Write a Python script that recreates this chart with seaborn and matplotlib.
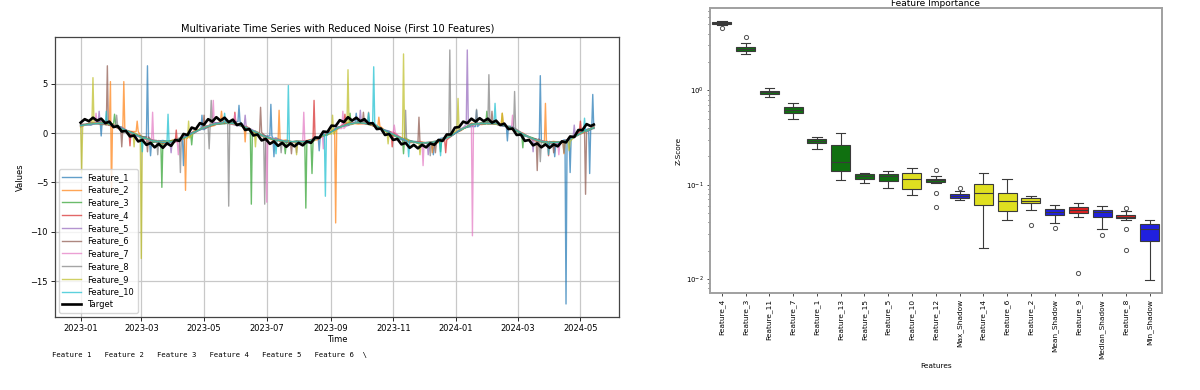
import numpy as np
import pandas as pd
import matplotlib
matplotlib.use("Agg")
import matplotlib.pyplot as plt
import matplotlib.dates as mdates
import seaborn as sns

# ---------------- left chart data ----------------
start_date = "2023-01-01"
feature_knot_days = list(range(0, 500, 10)) + [499]
target_knot_days = list(range(0, 500, 4)) + [499]

target_values = [1.05, 1.4, 1.2, 1.55, 1.25, 1.45, 1.0, 1.15, 0.6, 0.7,
                 0.15, 0.2, -0.35, -0.25, -0.85, -0.7, -1.2, -1.0, -1.45, -1.1,
                 -1.5, -1.05, -1.3, -0.7, -0.8, -0.1, -0.2, 0.55, 0.4, 1.0,
                 0.85, 1.4, 1.15, 1.6, 1.25, 1.55, 1.1, 1.35, 0.8, 0.95,
                 0.3, 0.4, -0.25, -0.15, -0.75, -0.6, -1.1, -0.85, -1.3, -1.0,
                 -1.4, -1.05, -1.35, -1.0, -1.25, -0.85, -1.0, -0.45, -0.5, 0.15,
                 0.1, 0.75, 0.7, 1.3, 1.1, 1.6, 1.25, 1.55, 1.2, 1.4,
                 0.95, 1.0, 0.4, 0.45, -0.2, -0.1, -0.7, -0.6, -1.15, -1.0,
                 -1.5, -1.2, -1.55, -1.2, -1.45, -1.05, -1.2, -0.7, -0.8, -0.15,
                 -0.15, 0.55, 0.6, 1.15, 1.0, 1.45, 1.15, 1.5, 1.2, 1.45,
                 1.05, 1.25, 0.8, 0.95, 0.4, 0.45, -0.2, -0.15, -0.8, -0.7,
                 -1.25, -1.05, -1.45, -1.15, -1.5, -1.15, -1.35, -0.85, -0.95, -0.35,
                 -0.4, 0.3, 0.3, 0.9, 0.7, 0.85]

feature_1_values = [0.85, 0.8, 1.2, 0.75, 0.6, -0.2, -0.4, -0.9, -0.75, -1.0, -0.4, 0.1, 0.35, 1.05, 0.95, 1.15, 0.55, -0.05, -0.3, -0.5, -0.95, -0.85, -1.05, -0.4, -0.15, 0.6, 0.75, 1.1, 1.15, 0.45, 0.2, -0.65, -0.8, -0.9, -1.15, -0.55, -0.35, 0.45, 0.65, 1.05, 1.1, 0.7, 0.65, -0.25, -0.55, -0.8, -1.2, -0.7, -0.45, 0.25, 0.45]
feature_2_values = [0.6, 1.1, 0.9, 0.95, 0.3, 0.15, -0.6, -0.7, -1.1, -0.7, -0.6, 0.2, 0.5, 0.75, 1.2, 0.85, 0.7, 0.0, -0.5, -0.8, -0.7, -1.05, -0.75, -0.7, 0.05, 0.4, 1.05, 0.9, 1.0, 0.7, -0.1, -0.35, -1.0, -0.85, -1.1, -0.9, -0.15, 0.25, 1.0, 0.85, 1.05, 0.9, 0.3, 0.0, -0.75, -0.95, -0.85, -1.0, -0.3, 0.05, 0.65]
feature_3_values = [0.7, 1.0, 0.85, 0.9, 0.5, -0.1, -0.35, -0.95, -0.85, -0.75, -0.55, -0.05, 0.65, 0.85, 0.95, 1.05, 0.5, 0.2, -0.45, -0.65, -1.0, -0.8, -0.9, -0.45, -0.2, 0.55, 0.85, 1.15, 0.85, 0.6, -0.05, -0.5, -0.75, -1.1, -0.9, -0.8, -0.2, 0.3, 0.95, 0.9, 1.0, 0.75, 0.55, -0.2, -0.5, -1.0, -0.9, -0.95, -0.35, 0.2, 0.5]
feature_4_values = [0.8, 0.9, 1.1, 0.7, 0.4, 0.1, -0.5, -0.75, -1.0, -0.9, -0.45, 0.0, 0.6, 0.95, 1.0, 0.9, 0.65, 0.05, -0.35, -0.75, -0.8, -0.95, -0.8, -0.6, -0.05, 0.45, 0.95, 1.0, 0.9, 0.5, 0.1, -0.4, -0.9, -0.95, -1.05, -0.7, -0.35, 0.4, 0.8, 1.05, 0.9, 0.85, 0.4, -0.05, -0.65, -0.85, -1.05, -0.8, -0.45, 0.1, 0.6]
feature_5_values = [0.65, 1.05, 0.95, 0.85, 0.55, -0.05, -0.55, -0.7, -0.9, -0.95, -0.4, 0.15, 0.45, 1.0, 1.1, 0.8, 0.65, 0.15, -0.5, -0.6, -0.9, -0.85, -0.95, -0.5, -0.15, 0.6, 0.8, 1.1, 1.0, 0.45, 0.1, -0.5, -0.8, -1.05, -0.95, -0.7, -0.25, 0.3, 0.9, 0.95, 1.0, 0.75, 0.5, -0.15, -0.55, -0.95, -0.95, -0.9, -0.35, 0.2, 0.5]
feature_6_values = [0.9, 0.85, 1.05, 0.8, 0.35, 0.05, -0.4, -0.85, -0.95, -0.8, -0.55, 0.1, 0.5, 0.85, 1.0, 1.0, 0.55, 0.05, -0.35, -0.7, -0.9, -0.85, -0.8, -0.5, -0.1, 0.5, 0.95, 1.0, 0.9, 0.6, 0.0, -0.45, -0.85, -1.0, -0.95, -0.75, -0.3, 0.35, 0.8, 1.0, 0.95, 0.8, 0.45, -0.1, -0.6, -0.9, -1.0, -0.8, -0.4, 0.15, 0.5]
feature_7_values = [0.7, 0.9, 0.95, 0.85, 0.5, -0.05, -0.5, -0.85, -0.9, -0.9, -0.45, 0.0, 0.6, 0.85, 1.1, 0.9, 0.6, 0.15, -0.45, -0.65, -0.85, -0.95, -0.85, -0.6, -0.05, 0.45, 0.9, 1.05, 1.0, 0.5, 0.05, -0.4, -0.9, -0.95, -1.0, -0.8, -0.25, 0.4, 0.85, 0.95, 1.0, 0.75, 0.5, -0.05, -0.65, -0.85, -1.05, -0.85, -0.4, 0.1, 0.6]
feature_8_values = [0.8, 1.0, 1.0, 0.75, 0.45, 0.05, -0.45, -0.75, -1.0, -0.85, -0.5, 0.05, 0.55, 0.9, 1.0, 0.95, 0.6, 0.1, -0.4, -0.75, -0.85, -0.9, -0.85, -0.55, -0.1, 0.5, 0.9, 1.05, 0.95, 0.55, 0.05, -0.45, -0.85, -1.0, -1.0, -0.75, -0.3, 0.35, 0.85, 1.0, 0.95, 0.8, 0.45, -0.1, -0.6, -0.9, -1.0, -0.85, -0.4, 0.15, 0.6]
feature_9_values = [0.75, 0.95, 1.05, 0.8, 0.4, 0.0, -0.45, -0.8, -0.9, -0.85, -0.5, 0.1, 0.55, 0.9, 1.05, 0.9, 0.6, 0.1, -0.45, -0.7, -0.85, -0.9, -0.9, -0.55, -0.1, 0.5, 0.85, 1.05, 0.95, 0.55, 0.05, -0.5, -0.85, -1.0, -1.0, -0.7, -0.3, 0.35, 0.85, 1.0, 0.95, 0.8, 0.45, -0.1, -0.6, -0.9, -1.0, -0.85, -0.4, 0.15, 0.55]
feature_10_values = [0.75, 0.9, 1.0, 0.8, 0.45, 0.0, -0.45, -0.8, -0.95, -0.85, -0.5, 0.05, 0.55, 0.9, 1.05, 0.95, 0.6, 0.1, -0.4, -0.7, -0.85, -0.9, -0.85, -0.55, -0.1, 0.5, 0.9, 1.05, 0.95, 0.55, 0.05, -0.45, -0.85, -1.0, -1.0, -0.75, -0.3, 0.35, 0.85, 1.0, 0.95, 0.8, 0.45, -0.1, -0.6, -0.9, -1.0, -0.85, -0.4, 0.15, 0.55]

# (day offset, value) of single-day spikes
feature_1_spikes = [(20, -0.3), (65, 6.8), (68, -2.3), (100, -3.3), (118, 1.8), (154, 2.8), (185, 2.9), (188, -2.4),
                    (232, -1.8), (268, 2.0), (343, -2.2), (385, 2.3), (415, -0.8), (447, 5.8), (461, -2.4),
                    (472, -17.3), (476, -4.0), (495, -4.1), (498, 3.9)]
feature_2_spikes = [(29, 5.2), (30, -6.2), (42, 5.2), (55, 1.2), (102, -5.8), (137, 2.2), (160, -0.9), (193, 2.3),
                    (248, -9.1), (290, 1.6), (342, -2.0), (410, 2.0), (452, 3.0), (470, -2.1)]
feature_3_spikes = [(33, 1.9), (79, -5.5), (108, -1.2), (166, -7.2), (199, -2.1), (219, -7.6), (225, -4.1),
                    (262, 2.0), (314, -2.1), (350, -1.9), (395, 2.2), (430, -1.5)]
feature_4_spikes = [(48, -1.3), (93, 0.3), (150, 2.1), (227, 3.3), (257, 1.9), (303, -1.4), (355, -2.0),
                    (455, -2.3), (486, 1.2)]
feature_5_spikes = [(18, 2.2), (88, -2.0), (160, 1.8), (210, -2.0), (272, 2.3), (338, -2.2), (376, 8.4),
                    (440, -1.9), (480, 0.8)]
feature_6_spikes = [(26, 6.8), (40, -1.4), (65, -1.9), (120, 1.8), (175, 2.6), (205, -2.1), (275, 2.1),
                    (329, 1.6), (345, -2.0), (400, 2.2), (444, -3.8), (460, -2.0), (491, -6.2)]
feature_7_spikes = [(15, 2.0), (70, 2.1), (95, -2.2), (129, 3.3), (150, 1.9), (181, -7.0), (217, 2.1),
                    (236, -1.6), (255, 2.2), (305, 0.8), (333, -3.3), (381, -10.4), (420, 1.8), (465, -2.2)]
feature_8_spikes = [(35, 1.8), (75, -2.2), (97, -4.0), (125, -1.6), (127, 3.3), (144, -7.4), (179, -7.2),
                    (195, -2.0), (280, 2.1), (316, 2.3), (340, -2.3), (359, 8.4), (385, 2.4), (397, 5.9),
                    (422, 4.2), (447, -2.9), (470, -2.0)]
feature_9_spikes = [(1, -4.0), (12, 5.6), (52, -1.4), (59, -12.7), (105, 1.2), (170, -1.4), (210, -2.2),
                    (245, 1.8), (260, 6.4), (299, -1.1), (314, 8.0), (330, -2.2), (367, 3.5), (410, 2.0),
                    (475, -1.8)]
feature_10_spikes = [(25, 2.2), (60, -1.9), (85, 1.9), (140, 2.0), (190, -2.1), (202, 4.8), (238, -6.4),
                     (280, 2.0), (285, 6.7), (319, -2.4), (350, -2.3), (403, 3.0), (455, -2.2), (490, 1.5)]

feature_names = ["Feature_%d" % i for i in range(1, 11)]
feature_values = [feature_1_values, feature_2_values, feature_3_values, feature_4_values, feature_5_values,
                  feature_6_values, feature_7_values, feature_8_values, feature_9_values, feature_10_values]
feature_spikes = [feature_1_spikes, feature_2_spikes, feature_3_spikes, feature_4_spikes, feature_5_spikes,
                  feature_6_spikes, feature_7_spikes, feature_8_spikes, feature_9_spikes, feature_10_spikes]

# ---------------- right chart data ----------------
box_order = ["Feature_4", "Feature_3", "Feature_11", "Feature_7", "Feature_1", "Feature_13", "Feature_15",
             "Feature_5", "Feature_10", "Feature_12", "Max_Shadow", "Feature_14", "Feature_6", "Feature_2",
             "Mean_Shadow", "Feature_9", "Median_Shadow", "Feature_8", "Min_Shadow"]
box_status = ["green", "green", "green", "green", "green", "green", "green", "green", "yellow", "green",
              "blue", "yellow", "yellow", "yellow", "blue", "red", "blue", "red", "blue"]

z_feature_4 = [4.53, 4.96, 5.02, 5.1, 5.15, 5.2, 5.28, 5.33, 5.4]
z_feature_3 = [2.40, 2.55, 2.61, 2.68, 2.74, 2.8, 2.86, 3.18, 3.66]
z_feature_11 = [0.86, 0.9, 0.925, 0.94, 0.955, 0.97, 0.985, 1.02, 1.06]
z_feature_7 = [0.502, 0.55, 0.581, 0.6, 0.625, 0.65, 0.672, 0.71, 0.741]
z_feature_1 = [0.241, 0.262, 0.277, 0.285, 0.294, 0.3, 0.305, 0.315, 0.324]
z_feature_13 = [0.1135, 0.13, 0.141, 0.16, 0.176, 0.22, 0.266, 0.31, 0.353]
z_feature_15 = [0.1055, 0.112, 0.1164, 0.12, 0.123, 0.126, 0.129, 0.132, 0.1346]
z_feature_5 = [0.0925, 0.103, 0.1107, 0.118, 0.124, 0.127, 0.129, 0.134, 0.139]
z_feature_10 = [0.0787, 0.085, 0.091, 0.105, 0.1164, 0.125, 0.1346, 0.143, 0.151]
z_feature_12 = [0.058, 0.081, 0.105, 0.1065, 0.108, 0.11, 0.111, 0.112, 0.113, 0.115, 0.118, 0.123, 0.145]
z_max_shadow = [0.0697, 0.071, 0.072, 0.074, 0.0762, 0.078, 0.0793, 0.086, 0.0918]
z_feature_14 = [0.0216, 0.05, 0.0617, 0.072, 0.0819, 0.092, 0.102, 0.118, 0.132]
z_feature_6 = [0.0425, 0.048, 0.0525, 0.06, 0.0669, 0.075, 0.0827, 0.098, 0.1143]
z_feature_2 = [0.0376, 0.0537, 0.0637, 0.066, 0.068, 0.071, 0.0732, 0.075, 0.0768]
z_mean_shadow = [0.0347, 0.0392, 0.0479, 0.05, 0.052, 0.054, 0.0555, 0.058, 0.0617]
z_feature_9 = [0.01166, 0.046, 0.0503, 0.052, 0.0541, 0.056, 0.0578, 0.061, 0.0642]
z_median_shadow = [0.0294, 0.0338, 0.0455, 0.048, 0.0508, 0.052, 0.054, 0.057, 0.0597]
z_feature_8 = [0.0204, 0.0338, 0.0425, 0.0439, 0.0448, 0.0455, 0.046, 0.0465, 0.047, 0.0478, 0.049, 0.0525, 0.0564]
z_min_shadow = [0.00984, 0.018, 0.0254, 0.031, 0.034, 0.036, 0.0388, 0.0405, 0.0421]

box_samples = [z_feature_4, z_feature_3, z_feature_11, z_feature_7, z_feature_1, z_feature_13, z_feature_15,
               z_feature_5, z_feature_10, z_feature_12, z_max_shadow, z_feature_14, z_feature_6, z_feature_2,
               z_mean_shadow, z_feature_9, z_median_shadow, z_feature_8, z_min_shadow]

bottom_text = "Feature 1   Feature 2   Feature 3   Feature 4   Feature 5   Feature 6  \\"

# ---------------- build frames ----------------
t0 = pd.Timestamp(start_date)


def build_feature(vals, spikes):
    pts = dict(zip(feature_knot_days, vals))
    for d, _ in spikes:
        near = vals[int(np.argmin([abs(k - d) for k in feature_knot_days]))]
        for dd in (d - 1, d + 1):
            if 0 <= dd <= 499:
                pts[dd] = near
    for d, v in spikes:
        pts[d] = v
    days = sorted(pts)
    return pd.DataFrame({"Date": [t0 + pd.Timedelta(days=d) for d in days],
                         "Value": [pts[d] for d in days]})


target_df = pd.DataFrame({"Date": [t0 + pd.Timedelta(days=d) for d in target_knot_days],
                          "Value": target_values})

rows = []
for name, vals in zip(box_order, box_samples):
    for v in vals:
        rows.append((name, v))
box_df = pd.DataFrame(rows, columns=["Feature", "Z"])
color_map = dict(zip(box_order, box_status))

# ---------------- figure ----------------
fig = plt.figure(figsize=(12, 3.9), dpi=100)
ax1 = fig.add_axes([0.0458, 0.188, 0.4704, 0.7164])
ax2 = fig.add_axes([0.5916, 0.2495, 0.3764, 0.7292])

tab10 = sns.color_palette("tab10", 10)
for name, vals, spikes, col in zip(feature_names, feature_values, feature_spikes, tab10):
    df = build_feature(vals, spikes)
    sns.lineplot(data=df, x="Date", y="Value", ax=ax1, color=col, alpha=0.7, lw=1.0,
                 label=name, estimator=None)
sns.lineplot(data=target_df, x="Date", y="Value", ax=ax1, color="black", lw=1.9,
             label="Target", estimator=None)

ax1.set_title("Multivariate Time Series with Reduced Noise (First 10 Features)", fontsize=7.1, pad=4)
ax1.set_xlabel("Time", fontsize=6, labelpad=2)
ax1.set_ylabel("Values", fontsize=6, labelpad=4)
ax1.xaxis.set_major_locator(mdates.MonthLocator(bymonth=[1, 3, 5, 7, 9, 11]))
ax1.xaxis.set_major_formatter(mdates.DateFormatter("%Y-%m"))
ax1.tick_params(labelsize=6, length=3, width=0.6, pad=2)
ax1.grid(True, color="#c8c8c8", lw=0.9)
for s in ax1.spines.values():
    s.set_color("#444444")
    s.set_linewidth(0.9)
leg = ax1.legend(loc="lower left", fontsize=6, framealpha=0.8, handlelength=2.2,
                 borderpad=0.4, labelspacing=0.45)

fig.text(0.0433, 0.09, bottom_text, family="DejaVu Sans Mono", fontsize=5.2, va="center", ha="left")

# right chart
sns.boxplot(data=box_df, x="Feature", y="Z", order=box_order, hue="Feature", hue_order=box_order,
            palette=color_map, legend=False, ax=ax2, width=0.8, linecolor="#3a3a3a", linewidth=0.8,
            flierprops=dict(marker="o", markersize=3, markerfacecolor="none",
                            markeredgecolor="#505050", markeredgewidth=0.7))
ax2.set_yscale("log")
ax2.set_title("Feature Importance", fontsize=6.5, pad=-0.5)
ax2.set_xlabel("Features", fontsize=5.3, labelpad=3)
ax2.set_ylabel("Z-Score", fontsize=5.3, labelpad=3)
ax2.tick_params(axis="x", rotation=90, labelsize=5.3, length=2.5, width=0.5, pad=2)
ax2.tick_params(axis="y", which="both", labelsize=5.0, width=0.5, pad=2)
ax2.tick_params(axis="y", which="major", length=2.5)
ax2.tick_params(axis="y", which="minor", length=1.5)
for s in ax2.spines.values():
    s.set_color("#a0a0a0")
    s.set_linewidth(1.4)

fig.savefig("out.png", dpi=100)
